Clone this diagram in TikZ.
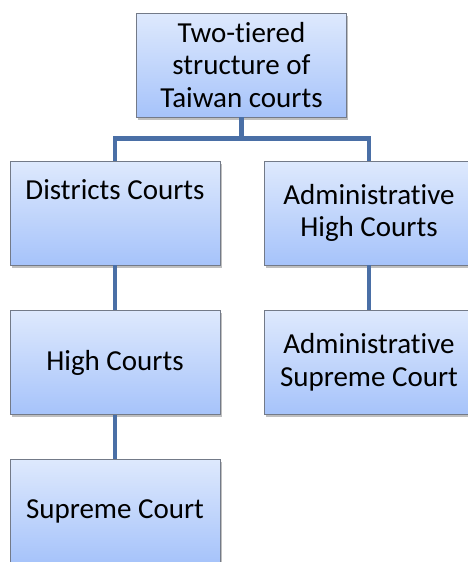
\documentclass[tikz,border=0pt]{standalone}
\usepackage{fontspec}
\setmainfont[Ligatures=NoCommon]{Carlito}
\usetikzlibrary{shadows}
\definecolor{boxtop}{HTML}{DEE9FD}
\definecolor{boxbot}{HTML}{A6C3FA}
\definecolor{boxline}{HTML}{737A88}
\definecolor{connblue}{HTML}{4A6FA6}
\tikzset{
  court/.style={rectangle, draw=boxline, line width=0.9pt,
    top color=boxtop, bottom color=boxbot,
    minimum width=210pt, minimum height=104pt, inner sep=0pt,
    align=center, font=\fontsize{29}{32.5}\selectfont,
    drop shadow={shadow xshift=1.5pt, shadow yshift=-2.5pt, fill=black, opacity=0.25}},
  conn/.style={draw=connblue, line width=4.5pt}
}
\begin{document}
\begin{tikzpicture}
\useasboundingbox (0pt,0pt) rectangle (467pt,-562pt);
\node[court] (top) at (241.5pt,-65pt) {Two-tiered\\structure of\\Taiwan courts};
\node[court, text height=20pt, text depth=48pt] (dc) at (115pt,-213pt) {Districts Courts};
\node[court] (ahc) at (369pt,-213pt) {Administrative\\High Courts};
\node[court] (hc) at (115pt,-362.5pt) {High Courts};
\node[court] (asc) at (369pt,-362.5pt) {Administrative\\Supreme Court};
\node[court] (sc) at (115pt,-511pt) {Supreme Court};
\coordinate (j) at (241.5pt,-138.5pt);
\draw[conn] (top.south) -- (j);
\draw[conn] (dc.north) |- (j) -| (ahc.north);
\draw[conn] (dc.south) -- (hc.north);
\draw[conn] (hc.south) -- (sc.north);
\draw[conn] (ahc.south) -- (asc.north);
\end{tikzpicture}
\end{document}
